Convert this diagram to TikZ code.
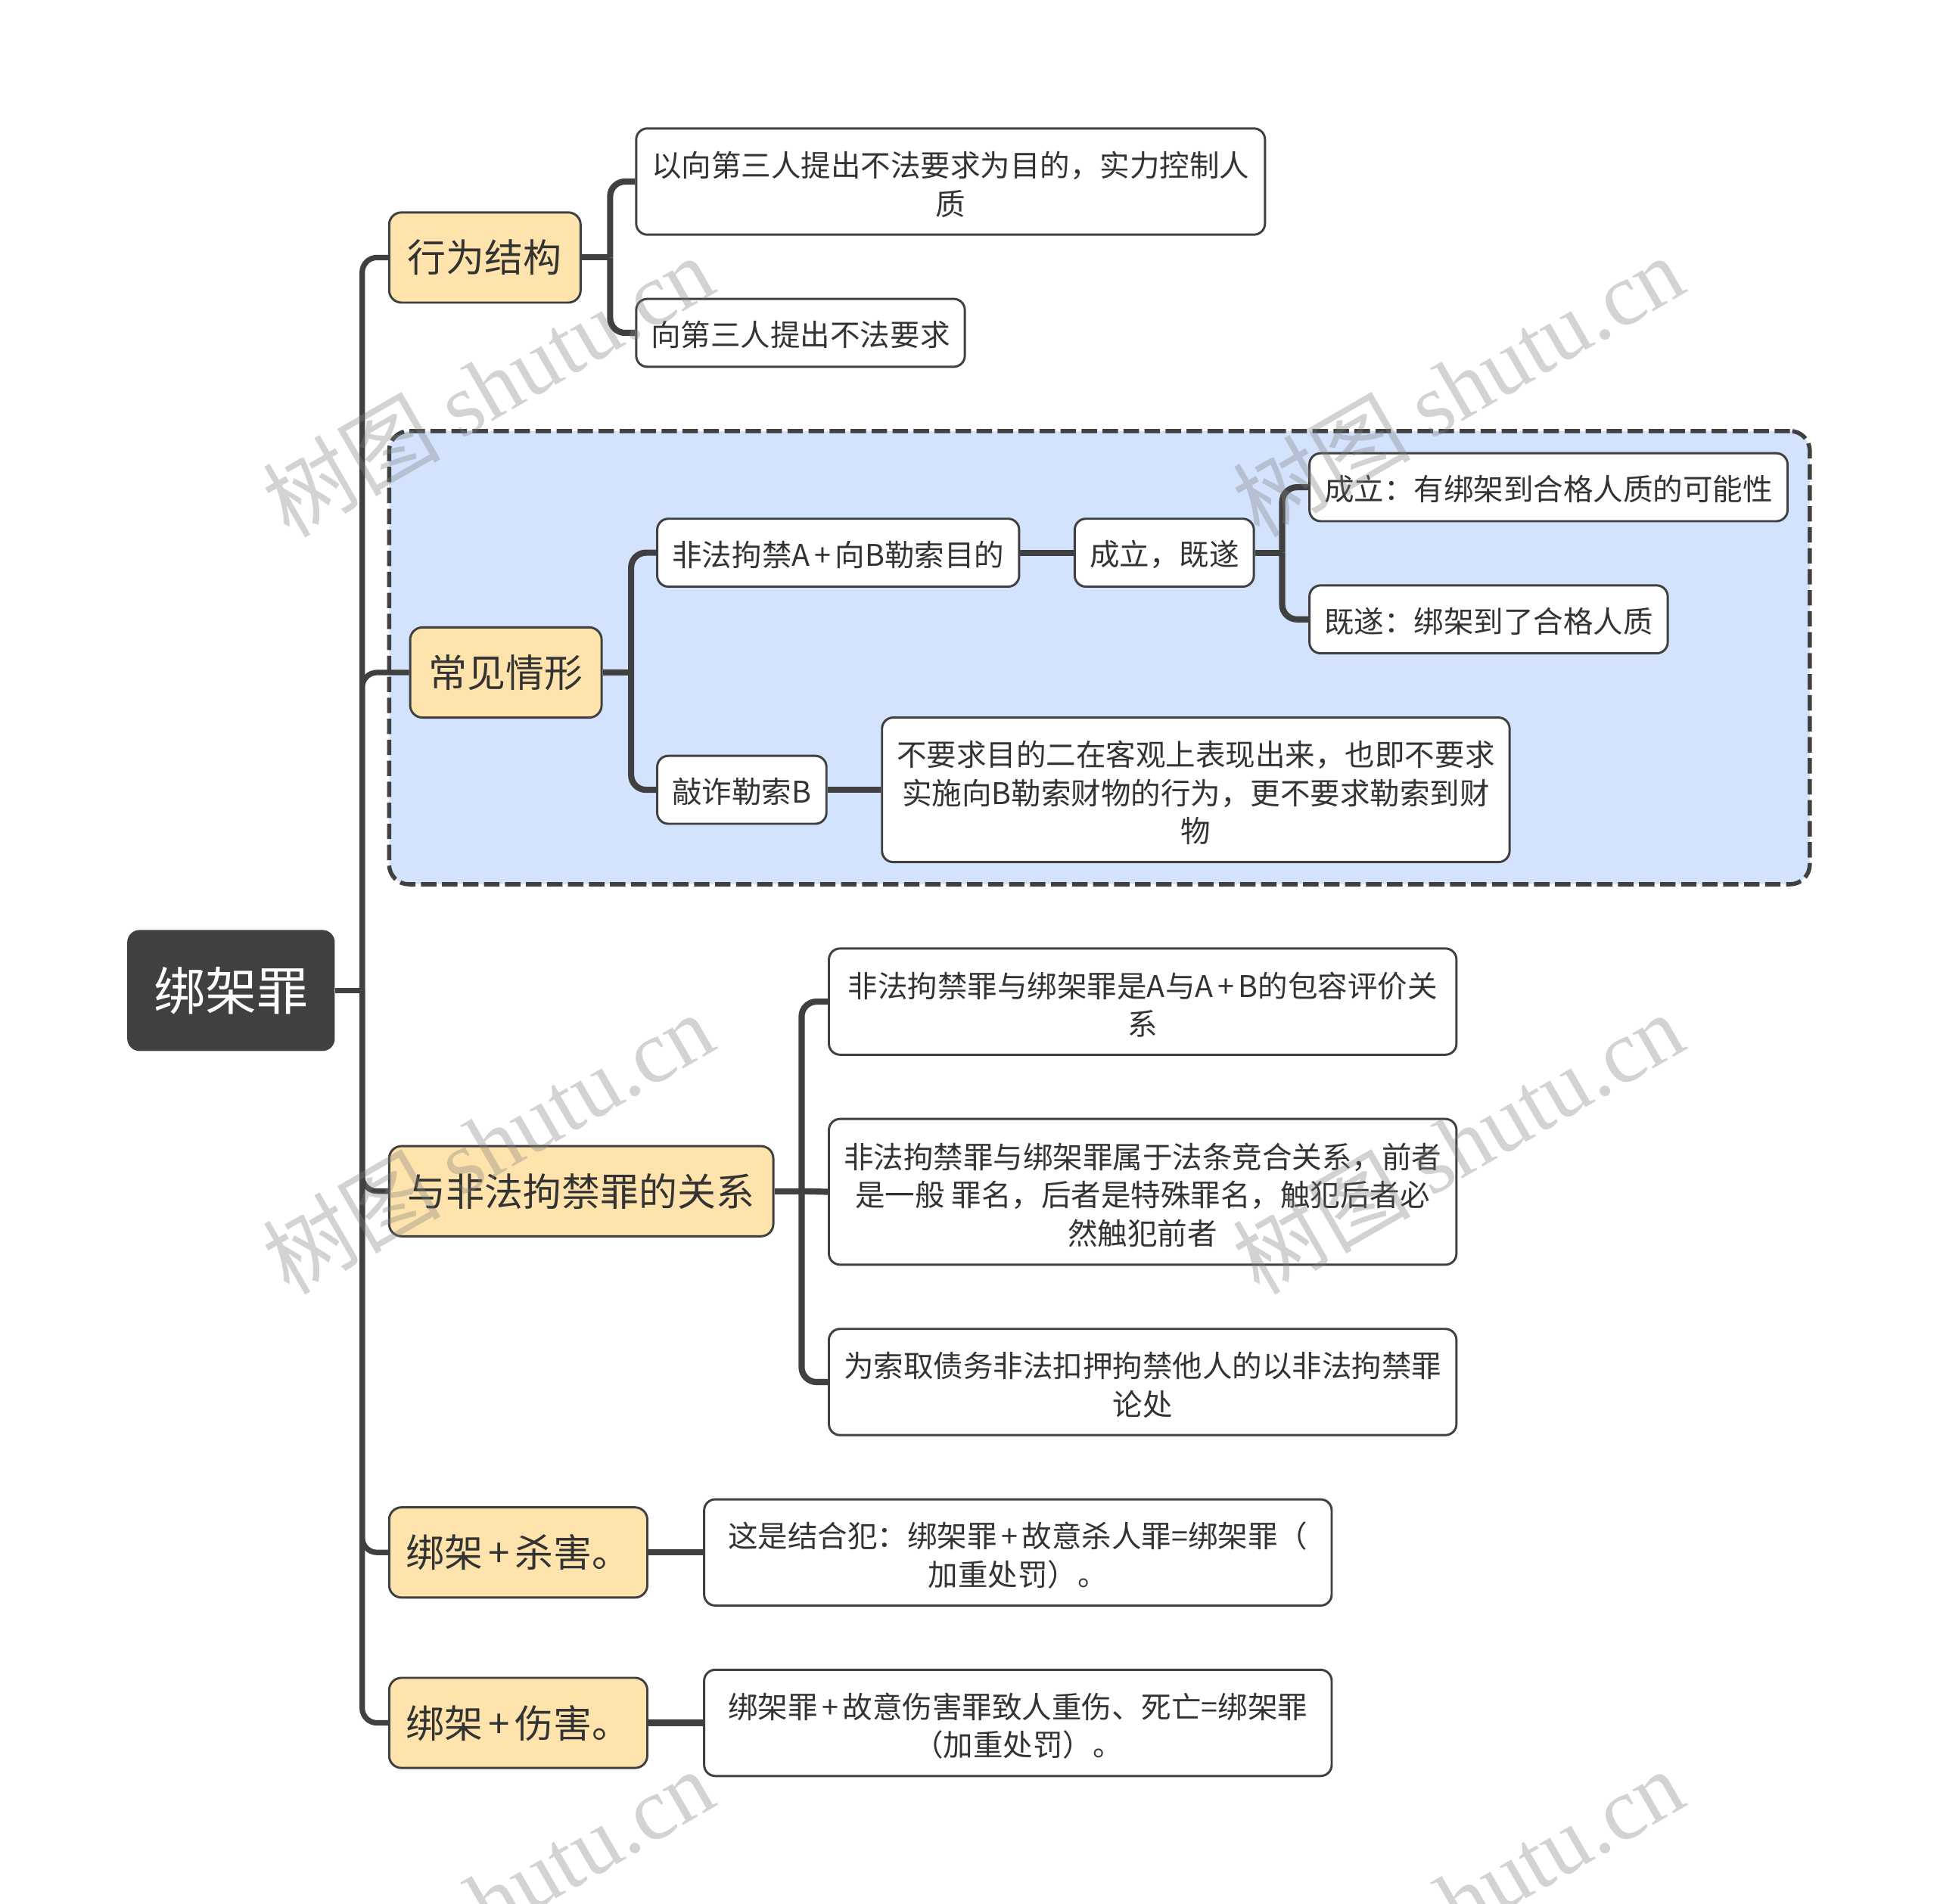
\documentclass[tikz,border=0pt]{standalone}
\usepackage{fontspec}
\setmainfont{Noto Sans CJK SC}
\newfontfamily\wmlatin{Liberation Serif}
\definecolor{darkline}{HTML}{404040}
\definecolor{inktext}{HTML}{333333}
\definecolor{topicfill}{HTML}{FEE4AC}
\definecolor{groupfill}{HTML}{D3E3FD}
\newcommand{\plussign}{\hspace{.14em}+\hspace{.14em}}
\newcommand{\firstline}{\rule{0pt}{25.5pt}}

\begin{document}
\begin{tikzpicture}[x=1pt,y=-1pt]
        \tikzstyle{rootnode}=[
            rectangle,
            rounded corners=10,
            fill=darkline,
            text=white,
            inner sep=0,
            font=\fontsize{41.7}{50}\selectfont
        ]
        \tikzstyle{topicnode}=[
            rectangle,
            rounded corners=10,
            draw=darkline,
            line width=1.8,
            fill=topicfill,
            text=inktext,
            minimum height=73,
            inner sep=0,
            font=\fontsize{31.2}{38}\selectfont
        ]
        \tikzstyle{leafnode}=[
            rectangle,
            rounded corners=9,
            draw=darkline,
            line width=1.8,
            fill=white,
            text=inktext,
            align=center,
            inner sep=0,
            font=\fontsize{24.2}{31}\selectfont,
            execute at begin node={\rule{0pt}{23.5pt}}
        ]
        \tikzstyle{groupbox}=[
            rectangle,
            rounded corners=16,
            fill=groupfill,
            draw=darkline,
            line width=3.4,
            dash pattern=on 12.5 off 4.5,
            preaction={draw=white,solid},
            inner sep=0
        ]
        \tikzstyle{link}=[
            draw=darkline,
            line width=5,
            rounded corners=12
        ]
        \tikzstyle{trunklink}=[
            link,
            line width=4.4
        ]
        \tikzstyle{watermark}=[
            rotate=30,
            text=gray,
            text opacity=0.35,
            inner sep=0,
            font=\fontsize{72}{80}\selectfont
        ]

        \useasboundingbox (0,0) rectangle (1568,1541.6);
        \clip (0,0) rectangle (1568,1541.6);

        \node[groupbox, minimum width=1150, minimum height=367] (group) at (890,532.5){};

        \node[rootnode, minimum width=168, minimum height=98] (root) at (187,802){绑架罪};

        \node[topicnode, minimum width=155] (act) at (392.5,208.5){行为结构};
        \node[topicnode, minimum width=155] (common) at (409.5,544.5){常见情形};
        \node[topicnode, minimum width=311] (rel) at (470.5,964.5){与非法拘禁罪的关系};
        \node[topicnode, minimum width=209] (kill) at (419.5,1257){绑架\plussign 杀害。};
        \node[topicnode, minimum width=209] (hurt) at (419.5,1395){绑架\plussign 伤害。};

        \node[leafnode, minimum width=509, minimum height=86] (aim) at (769.5,147){\firstline 以向第三人提出不法要求为目的，实力控制人\\质};
        \node[leafnode, minimum width=266, minimum height=55] (demand) at (648,269.5){向第三人提出不法要求};

        \node[leafnode, minimum width=293, minimum height=55] (detain) at (678.5,447.5){非法拘禁A\plussign 向B勒索目的};
        \node[leafnode, minimum width=137, minimum height=55] (extort) at (600.5,639.5){敲诈勒索B};
        \node[leafnode, minimum width=145, minimum height=55] (done) at (942.5,447.5){成立，既遂};
        \node[leafnode, minimum width=387, minimum height=55] (possible) at (1253.5,394.5){成立：有绑架到合格人质的可能性};
        \node[leafnode, minimum width=290, minimum height=55] (taken) at (1205,501.5){既遂：绑架到了合格人质};
        \node[leafnode, minimum width=508, minimum height=117] (noneed) at (968,639.5){\firstline 不要求目的二在客观上表现出来，也即不要求\\实施向B勒索财物的行为，更不要求勒索到财\\物};

        \node[leafnode, minimum width=508, minimum height=86] (incl) at (925,811){\firstline 非法拘禁罪与绑架罪是A与A\plussign B的包容评价关\\系};
        \node[leafnode, minimum width=508, minimum height=118] (comp) at (925,965){\firstline 非法拘禁罪与绑架罪属于法条竞合关系，前者\\是一般 罪名，后者是特殊罪名，触犯后者必\\然触犯前者};
        \node[leafnode, minimum width=508, minimum height=86] (debt) at (925,1119){\firstline 为索取债务非法扣押拘禁他人的以非法拘禁罪\\论处};

        \node[leafnode, minimum width=508, minimum height=86] (killtext) at (824,1257){\firstline 这是结合犯：绑架罪\plussign 故意杀人罪=绑架罪（\\加重处罚）。};
        \node[leafnode, minimum width=508, minimum height=86] (hurttext) at (824,1395){\firstline 绑架罪\plussign 故意伤害罪致人重伤、死亡=绑架罪\\（加重处罚）。};

        \coordinate (trunk) at ([xshift=22]root.east);
        \coordinate (actbus) at ([xshift=23]act.east);
        \coordinate (commonbus) at ([xshift=23]common.east);
        \coordinate (donebus) at ([xshift=22]done.east);
        \coordinate (relbus) at ([xshift=22]rel.east);

        \draw[trunklink] (root.east) -- (trunk);
        \draw[trunklink] (trunk) |- (act.west);
        \draw[trunklink] (trunk) |- (common.west);
        \draw[trunklink] (trunk) |- (rel.west);
        \draw[trunklink] (trunk) |- (kill.west);
        \draw[trunklink] (trunk) |- (hurt.west);

        \draw[link] (act.east) -- (actbus);
        \draw[link] (actbus) |- (aim.west);
        \draw[link] (actbus) |- (demand.west);

        \draw[link] (common.east) -- (commonbus);
        \draw[link] (commonbus) |- (detain.west);
        \draw[link] (commonbus) |- (extort.west);
        \draw[link] (detain.east) -- (done.west);
        \draw[link] (extort.east) -- (noneed.west);
        \draw[link] (done.east) -- (donebus);
        \draw[link] (donebus) |- (possible.west);
        \draw[link] (donebus) |- (taken.west);

        \draw[link] (rel.east) -- (relbus);
        \draw[link] (relbus) |- (incl.west);
        \draw[link] (relbus) -- (comp.west);
        \draw[link] (relbus) |- (debt.west);

        \draw[link] (kill.east) -- (killtext.west);
        \draw[link] (hurt.east) -- (hurttext.west);

        \node[watermark] (mark1) at (395,312){树图 {\wmlatin shutu.cn}};
        \node[watermark] (mark2) at (1180,312){树图 {\wmlatin shutu.cn}};
        \node[watermark] (mark3) at (395,925){树图 {\wmlatin shutu.cn}};
        \node[watermark] (mark4) at (1180,925){树图 {\wmlatin shutu.cn}};
        \node[watermark] (mark5) at (395,1538){树图 {\wmlatin shutu.cn}};
        \node[watermark] (mark6) at (1180,1538){树图 {\wmlatin shutu.cn}};

    \end{tikzpicture}
\end{document}
